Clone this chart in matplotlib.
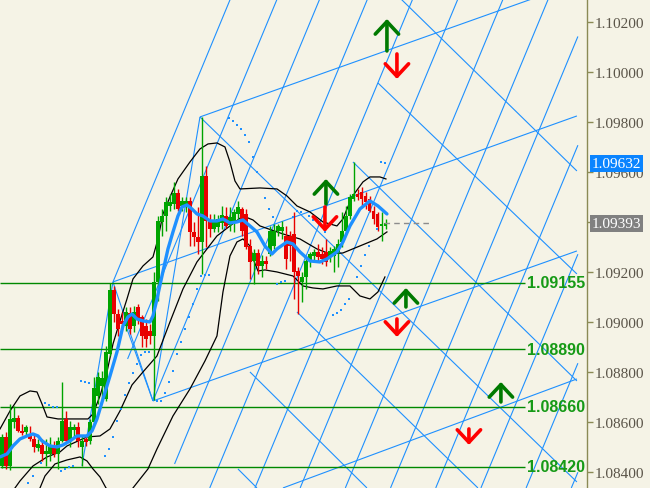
import matplotlib
matplotlib.use("Agg")
import matplotlib.pyplot as plt
import numpy as np

plt.rcParams['font.family'] = ['Liberation Serif', 'DejaVu Serif']

# ---------------- data ----------------
opens = [1.08423,1.08539,1.08423,1.08599,1.08615,1.08563,1.08559,1.08543,1.08531,1.08495,
1.08507,1.08471,1.08471,1.08503,1.08471,1.08523,1.08611,1.08523,1.08567,1.08579,
1.08499,1.08531,1.08523,1.08599,1.08703,1.08743,1.08691,1.08871,1.09127,1.09031,
1.09003,1.08983,1.09035,1.08983,1.09059,1.09019,1.08983,1.08963,1.08943,1.09159,
1.09399,1.09423,1.09463,1.09471,1.09515,1.09463,1.09463,1.09483,1.09359,1.09339,
1.09319,1.09583,1.09403,1.09371,1.09379,1.09395,1.09423,1.09387,1.09399,1.09431,
1.09451,1.09431,1.09303,1.09243,1.09275,1.09223,1.09243,1.09271,1.09303,1.09363,
1.09363,1.09343,1.09343,1.09351,1.09203,1.09159,1.09179,1.09243,1.09263,1.09279,
1.09271,1.09279,1.09259,1.09263,1.09279,1.09319,1.09363,1.09423,1.09491,1.09511,
1.09519,1.09503,1.09491,1.09443,1.09431,1.09383,1.09383]
highs = [1.08551,1.08559,1.08671,1.08663,1.08627,1.08591,1.08587,1.08583,1.08551,1.08531,
1.08531,1.08531,1.08539,1.08523,1.08539,1.08759,1.08643,1.08603,1.08591,1.08599,
1.08543,1.08543,1.08611,1.08779,1.08799,1.08803,1.08903,1.09155,1.09143,1.09051,
1.09039,1.09059,1.09059,1.09063,1.09071,1.09027,1.09011,1.08991,1.09199,1.09423,
1.09451,1.09499,1.09511,1.09559,1.09531,1.09499,1.09499,1.09499,1.09399,1.09459,
1.09819,1.09623,1.09431,1.09431,1.09427,1.09463,1.09459,1.09459,1.09451,1.09483,
1.09459,1.09451,1.09331,1.09291,1.09291,1.09267,1.09263,1.09383,1.09391,1.09391,
1.09403,1.09383,1.09363,1.09439,1.09219,1.09199,1.09263,1.09279,1.09291,1.09311,
1.09299,1.09331,1.09299,1.09303,1.09331,1.09439,1.09463,1.09511,1.09639,1.09531,
1.09539,1.09519,1.09503,1.09463,1.09439,1.09439,1.09411]
lows = [1.08415,1.08411,1.08407,1.08575,1.08559,1.08547,1.08543,1.08523,1.08479,1.08483,
1.08443,1.08423,1.08443,1.08459,1.08411,1.08519,1.08519,1.08499,1.08539,1.08499,
1.08423,1.08503,1.08511,1.08591,1.08671,1.08691,1.08683,1.08863,1.08999,1.08943,
1.08971,1.08963,1.08951,1.08959,1.08991,1.08899,1.08899,1.08911,1.08687,1.09083,
1.09343,1.09363,1.09443,1.09451,1.09443,1.09443,1.09439,1.09303,1.09303,1.09271,
1.09191,1.09299,1.09339,1.09359,1.09359,1.09371,1.09375,1.09363,1.09359,1.09399,
1.09343,1.09291,1.09171,1.09151,1.09191,1.09179,1.09211,1.09263,1.09291,1.09343,
1.09331,1.09211,1.09243,1.09091,1.09031,1.09079,1.09131,1.09219,1.09239,1.09243,
1.09231,1.09223,1.09239,1.09199,1.09219,1.09299,1.09359,1.09411,1.09483,1.09487,
1.09463,1.09451,1.09439,1.09391,1.09363,1.09323,1.09371]
closes = [1.08539,1.08423,1.08611,1.08615,1.08563,1.08555,1.08579,1.08531,1.08499,1.08511,
1.08471,1.08483,1.08503,1.08471,1.08523,1.08603,1.08523,1.08579,1.08579,1.08523,
1.08523,1.08519,1.08599,1.08735,1.08779,1.08775,1.08879,1.09127,1.09031,1.08971,
1.08991,1.09039,1.08971,1.09039,1.09011,1.08943,1.08931,1.08943,1.09159,1.09403,
1.09423,1.09479,1.09479,1.09515,1.09451,1.09483,1.09483,1.09359,1.09339,1.09319,
1.09583,1.09403,1.09371,1.09399,1.09411,1.09427,1.09383,1.09419,1.09439,1.09459,
1.09363,1.09299,1.09239,1.09275,1.09223,1.09243,1.09231,1.09363,1.09363,1.09383,
1.09379,1.09251,1.09303,1.09199,1.09183,1.09179,1.09243,1.09271,1.09279,1.09259,
1.09251,1.09239,1.09283,1.09291,1.09311,1.09363,1.09423,1.09499,1.09511,1.09499,
1.09491,1.09479,1.09443,1.09411,1.09379,1.09391,1.09393]

ma_x = [-0.5,1.25,2.75,4.5,6.25,7.75,9,10,12,13.75,15.25,17,18.75,21.25,22.5,23.75,25.25,27,28.75,30.25,
        31.5,32.5,33.75,35.25,37,37.75,38.75,40,41.5,42.75,44,45,46.25,47.5,48.75,50.25,52,53.75,55.25,57,
        58.75,60.25,62,63.75,65.75,67.5,68.75,71.25,72.75,74.5,77,79.5,81.25,83.75,85.25,87,89.5,92,94,96.25]
ma_y = [1.08459,1.08471,1.08503,1.08531,1.08543,1.08551,1.08543,1.08523,1.08503,1.08499,
        1.08507,1.08523,1.08543,1.08543,1.08563,1.08611,1.08691,1.08783,1.08879,1.08983,
        1.09019,1.09031,1.09011,1.09003,1.08999,1.09023,1.09091,1.09183,1.09291,1.09359,
        1.09423,1.09459,1.09467,1.09451,1.09431,1.09423,1.09403,1.09403,1.09411,1.09395,
        1.09399,1.09407,1.09383,1.09359,1.09303,1.09271,1.09291,1.09319,1.09311,1.09279,
        1.09243,1.09239,1.09251,1.09279,1.09319,1.09383,1.09451,1.09483,1.09463,1.09431]

bb_up_x = [-0.5,2,4.5,7,8.75,10,11.25,14,21.5,22.75,24.5,26.25,27.75,29.5,31.25,32.75,35.25,37.75,39,40.25,
           42,44,47,49.5,51.5,53.75,55.75,57,58.25,59.5,64.5,68.75,71.25,73.75,77,80.25,83.75,85.25,87.5,90.25,
           92,94.5,96]
bb_up_y = [1.08571,1.08643,1.08703,1.08723,1.08719,1.08671,1.08619,1.08611,1.08611,1.08631,
           1.08703,1.08799,1.08911,1.09003,1.09091,1.09171,1.09223,1.09259,1.09331,1.09431,
           1.09499,1.09571,1.09639,1.09691,1.09711,1.09715,1.09699,1.09639,1.09563,1.09531,
           1.09535,1.09531,1.09503,1.09463,1.09439,1.09399,1.09383,1.09411,1.09499,1.09559,
           1.09579,1.09579,1.09571]
bb_mid_x = [3.25,4.5,7.75,11.25,14.5,16.25,21.25,24.5,27,29.5,32.5,35.25,38.75,42,45.25,48.75,51.25,53.75,57,60.25,
            62.75,64.5,70.25,74.5,78.75,82,85.25,89.5,93.75,96.25]
bb_mid_y = [1.08335,1.08363,1.08423,1.08459,1.08479,1.08503,1.08539,1.08543,1.08571,1.08643,
            1.08747,1.08799,1.08863,1.08999,1.09131,1.09239,1.09291,1.09343,1.09383,1.09423,
            1.09407,1.09383,1.09351,1.09331,1.09291,1.09271,1.09275,1.09303,1.09331,1.09359]
bb_lo_x = [9.5,10.75,13.25,16.25,19.5,21.25,22.75,24.5,26,29,31.25,32.75,36.5,38.75,42.75,47,50.75,53.75,55.25,57,
           58.75,60.25,62,63,64,65.75,68.75,72.75,75.25,77.75,80.25,83.75,87,89.5,92,94,95.75]
bb_lo_y = [1.08335,1.08383,1.08431,1.08447,1.08459,1.08443,1.08411,1.08379,1.08335,1.08291,
           1.08303,1.08335,1.08411,1.08491,1.08623,1.08731,1.08843,1.08943,1.09119,1.09263,
           1.09319,1.09331,1.09303,1.09243,1.09203,1.09207,1.09199,1.09183,1.09143,1.09135,
           1.09131,1.09143,1.09143,1.09103,1.09091,1.09119,1.09179]

sar_x = [6.5,7.75,9.75,10.75,11.75,12.75,13.75,14.75,15.75,16.75,17.75,19.75,20.75,21.75,
         25.75,26.75,27.75,28.75,29.75,30.75,31.75,32.75,33.75,34.75,35.75,36.75,38.75,39.75,
         40.75,41.75,42.75,43.75,44.75,45.75,46.75,47.75,48.75,49.75,50.75,51.75,
         56.75,57.75,58.75,59.75,60.75,61.75,62.75,63.75,65.75,66.75,67.75,68.75,69.75,70.75,
         72.75,73.75,74.75,76.75,77.75,80.75,82.75,83.75,84.75,85.75,86.75,88.75,89.75,90.75,91.75,
         93.75,94.75,95.75]
sar_y = [1.08355,1.08383,1.08435,1.08675,1.08667,1.08659,1.08659,1.08403,1.08411,1.08419,1.08423,
         1.08763,1.08759,1.08755,1.08463,1.08491,1.08539,1.08603,1.08651,1.08707,1.08755,1.08795,
         1.08831,1.08867,1.08879,1.08879,1.08683,1.08683,1.08715,1.08759,1.08803,1.08871,1.08919,
         1.08971,1.09019,1.09071,1.09131,1.09183,1.09187,1.09187,1.09815,1.09803,1.09787,1.09771,
         1.09747,1.09719,1.09659,1.09599,1.09495,1.09451,1.09419,1.09151,1.09159,1.09163,1.09419,
         1.09443,1.09439,1.09423,1.09407,1.09359,1.09027,1.09035,1.09047,1.09071,1.09091,1.09179,
         1.09223,1.09267,1.09303,1.09371,1.09639,1.09635]

# drawn trend objects: (bar0, price0, bar1, price1)
tl_x0 = [20, 27.75, 37.75, 31.25,
         27.75, 31.4, 37.75, 43.15, 51.95, 63.25, 74.55, 85.85, 97.15, 108.45, 119.75, 131.05, 142.35,
         27.75, 37.75, 70.25, 49.5,
         49.5, 99.75, 87.75, 94, 73.75, 62, 59]
tl_y0 = [1.08423, 1.09159, 1.08683, 1.08971,
         1.09159, 1.08851, 1.08683, 1.08431, 1.08335, 1.08335, 1.08335, 1.08335, 1.08335, 1.08335, 1.08335, 1.08335, 1.08335,
         1.09159, 1.08683, 1.08335, 1.09819,
         1.09819, 1.10291, 1.09639, 1.09955, 1.09039, 1.08799, 1.08411]
tl_x1 = [27.75, 37.75, 49.5, 37.75,
         57.1, 68.8, 79.45, 91.4, 102.7, 114.0, 125.3, 136.6, 144.0, 144.0, 144.0, 144.0, 144.0,
         143.75, 143.75, 143.75, 132.5,
         143.75, 143.75, 143.75, 143.75, 119, 91.25, 63.75]
tl_y1 = [1.09159, 1.08683, 1.09819, 1.08683,
         1.10291, 1.10291, 1.10291, 1.10291, 1.10291, 1.10291, 1.10291, 1.10291, 1.10141, 1.09706, 1.09270, 1.08834, 1.08398,
         1.09823, 1.09283, 1.08771, 1.10291,
         1.08359, 1.09603, 1.08763, 1.09191, 1.08335, 1.08335, 1.08335]

levels = [1.09155, 1.08890, 1.08660, 1.08420]

arrow_x = [96.25, 98.75, 81, 80.75, 101, 98.75, 124.75, 116.75]
arrow_tip = [1.10211, 1.09971, 1.09571, 1.09359, 1.09135, 1.08939, 1.08759, 1.08507]
arrow_tail = [1.10083, 1.10071, 1.09471, 1.09459, 1.09059, 1.09011, 1.08679, 1.08571]

ticks = [1.084, 1.086, 1.088, 1.090, 1.092, 1.094, 1.096, 1.098, 1.100, 1.102]
# 1.09400 is hidden behind the bid box in the reference
tick_labels = ['1.08400', '1.08600', '1.08800', '1.09000', '1.09200', '', '1.09600',
               '1.09800', '1.10000', '1.10200']
bid_price = 1.09393
blue_price = 1.09632

# ---------------- style ----------------
BG = '#F5F3E6'
BLUE = '#1E90FF'
OLIVE = '#8A8A55'

fig = plt.figure(figsize=(6.5, 4.89), dpi=100, facecolor=BG)
ax = fig.add_axes([0, 0, 586.7 / 650, 1])
ax.set_facecolor(BG)
ax.set_xlim(-0.5, 146.2)
ax.set_ylim(1.083348, 1.102908)

# trend objects
for x0, y0, x1, y1 in zip(tl_x0, tl_y0, tl_x1, tl_y1):
    ax.plot([x0, x1], [y0, y1], color=BLUE, lw=0.8, zorder=1, solid_capstyle='butt')

# horizontal levels
ax.hlines(levels, -0.5, 130.75, colors='#008800', lw=1.0, zorder=2)
for lv in levels:
    ax.text(131.3, lv, f'{lv:.5f}', va='center', ha='left', fontsize=11.5, fontweight='bold',
            family=['Liberation Sans', 'DejaVu Sans'], color='#169A16', zorder=6)

# bollinger lines
ax.plot(bb_up_x, bb_up_y, color='black', lw=0.9, zorder=3)
ax.plot(bb_mid_x, bb_mid_y, color='black', lw=0.9, zorder=3)
ax.plot(bb_lo_x, bb_lo_y, color='black', lw=0.9, zorder=3)

# candles
idx = np.arange(len(opens))
o = np.array(opens); h = np.array(highs); l = np.array(lows); c = np.array(closes)
cols = np.where(c >= o, '#00A400', '#E80000')
ax.vlines(idx, l, h, colors=cols, lw=1.0, zorder=4)
body_h = np.maximum(np.abs(c - o), 0.00004)
ax.bar(idx, body_h, bottom=np.minimum(o, c), width=0.78, color=cols, linewidth=0, zorder=4)

# dashed bid line
ax.hlines(bid_price, 95.5, 107, colors='#8C8C8C', linestyles=(0, (4, 3)), lw=1.0, zorder=4)

# moving average
ax.plot(ma_x, ma_y, color=BLUE, lw=2.4, zorder=5, solid_capstyle='round')

# parabolic SAR
ax.scatter(sar_x, sar_y, s=4.5, marker='s', color=BLUE, linewidths=0, zorder=5)

# arrows
for ax_, tip, tail in zip(arrow_x, arrow_tip, arrow_tail):
    col = '#007A00' if tip > tail else '#FF0000'
    ax.annotate('', xy=(ax_, tip), xytext=(ax_, tail),
                arrowprops=dict(arrowstyle='->,head_length=0.45,head_width=0.42', lw=2.6,
                                color=col, shrinkA=0, shrinkB=0, mutation_scale=20),
                zorder=7)

# axes style
for s in ['left', 'top', 'bottom']:
    ax.spines[s].set_visible(False)
ax.spines['right'].set_color(OLIVE)
ax.spines['right'].set_linewidth(1.0)
ax.set_xticks([])
ax.yaxis.tick_right()
ax.set_yticks(ticks)
ax.set_yticklabels(tick_labels)
ax.tick_params(axis='y', direction='out', length=4, width=1, color=OLIVE,
               labelcolor='#5A5448', labelsize=11, pad=2)

# price boxes
ytr = ax.get_yaxis_transform()
ax.text(1.0085, blue_price, f'{blue_price:.5f}', transform=ytr, va='center', ha='left',
        color='white', fontsize=11, zorder=10, clip_on=False,
        bbox=dict(boxstyle='square,pad=0.12', fc='#0A84FF', ec='none'))
ax.text(1.0085, bid_price, f'{bid_price:.5f}', transform=ytr, va='center', ha='left',
        color='white', fontsize=11, zorder=10, clip_on=False,
        bbox=dict(boxstyle='square,pad=0.12', fc='#808080', ec='none'))

fig.savefig('out.png', dpi=100, facecolor=BG)
